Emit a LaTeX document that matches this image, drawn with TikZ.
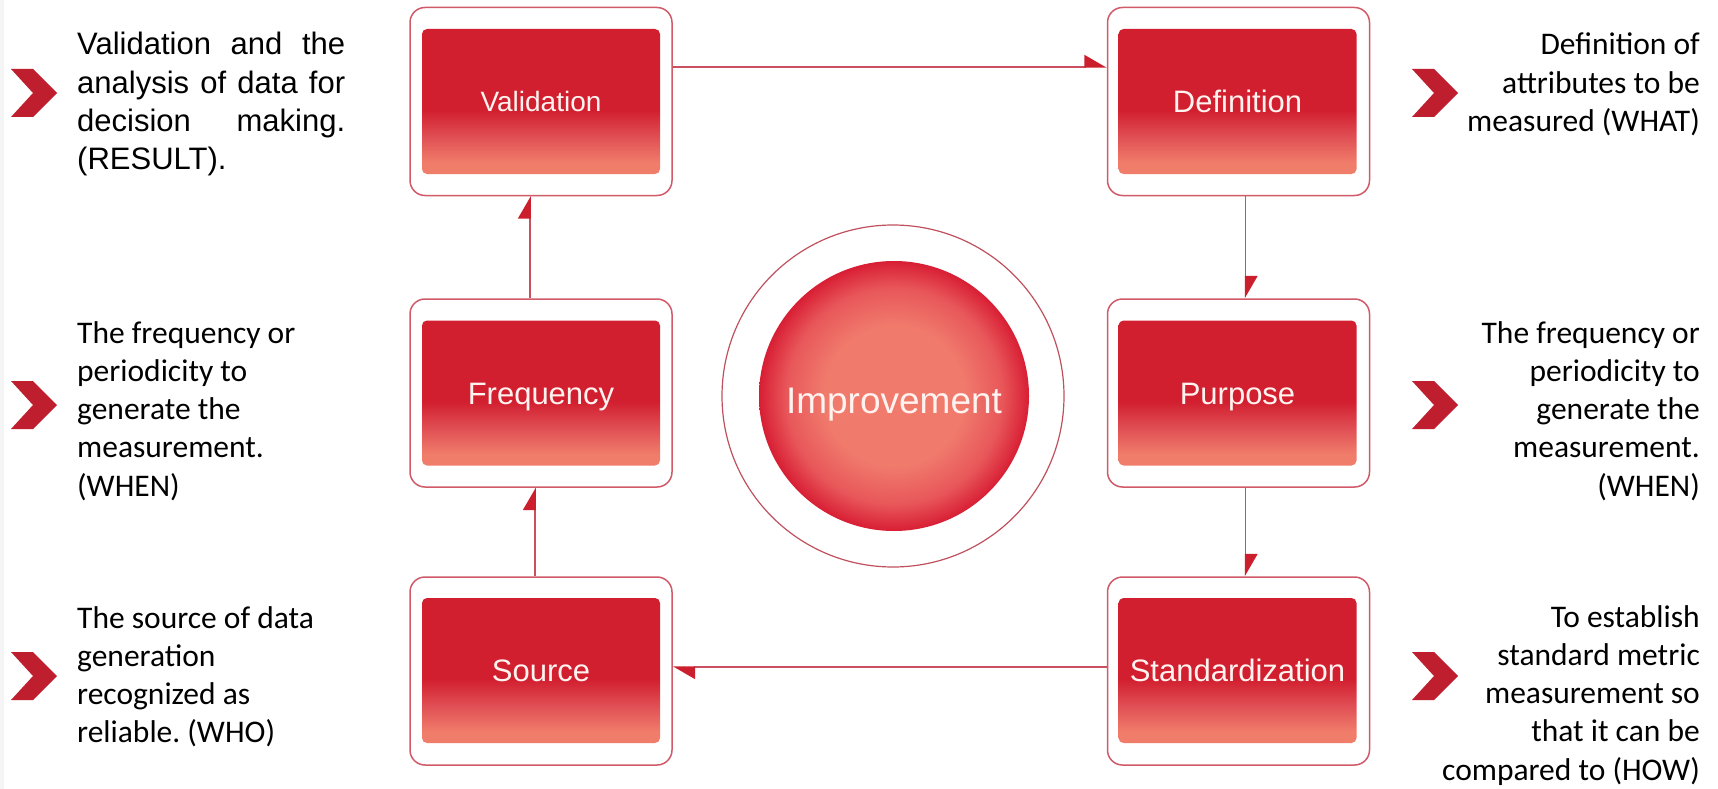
\documentclass[tikz,border=0pt]{standalone}
\usepackage{fontspec}
\setmainfont{Carlito}
\newfontfamily\arialfont{Liberation Sans}
\usetikzlibrary{arrows.meta}
\definecolor{boxtop}{HTML}{D21F30}
\definecolor{boxmid}{HTML}{E04E54}
\definecolor{boxbot}{HTML}{F07C6A}
\definecolor{ballin}{HTML}{F07A6C}
\definecolor{ballmid}{HTML}{E8575A}
\definecolor{ballout}{HTML}{D81E34}
\definecolor{linecol}{HTML}{C9505F}
\definecolor{bordercol}{HTML}{D05A68}
\definecolor{ringcol}{HTML}{C0505E}
\definecolor{tipcol}{HTML}{CC1F2E}
\definecolor{chevred}{HTML}{BE1E2D}
\definecolor{boxtext}{HTML}{FFF2EF}
\pgfdeclareverticalshading{boxgrad}{100bp}{color(0bp)=(boxbot); color(29bp)=(boxbot); color(38bp)=(boxmid); color(47bp)=(boxtop); color(100bp)=(boxtop)}
\pgfdeclareradialshading{ballgrad}{\pgfpoint{0bp}{0bp}}{color(0bp)=(ballin); color(13bp)=(ballin); color(20bp)=(ballmid); color(25bp)=(ballout); color(50bp)=(ballout)}
\newcommand\linesL[1]{\vtop{\halign{##\hfil\cr#1\crcr}}}
\newcommand\linesR[1]{\vtop{\halign{\hfil##\cr#1\crcr}}}
\frenchspacing
\begin{document}
\begin{tikzpicture}[x=1pt,y=-1pt,
  outerbox/.style={draw=bordercol, line width=1.5pt, rounded corners=15pt, minimum width=262pt, minimum height=188pt, inner sep=0pt},
  innerbox/.style={rounded corners=5pt, shading=boxgrad, minimum width=238pt, minimum height=145pt, inner sep=0pt, text=boxtext, font=\arialfont\fontsize{31}{37}\selectfont, text height=22.2pt, text depth=0pt},
  conn/.style={draw=linecol, line width=1.5pt, -{Stealth[inset=0pt,length=21pt,width=24pt,left,color=tipcol]}},
  desc/.style={inner sep=0pt, font=\fontsize{31.5}{38.3}\selectfont, text=black},
  chev/.pic={\fill[chevred] (0,0) -- (22,0) -- (46,24) -- (22,48) -- (0,48) -- (22,24) -- cycle;}
]
\useasboundingbox (0,0) rectangle (1718,789);
\fill[white] (0,0) rectangle (1718,789);
\fill[gray!8] (0,0) rectangle (4,789);

% boxes
\node[outerbox] (val) at (541,101.5) {};
\node[innerbox, font=\arialfont\fontsize{28}{34}\selectfont, text height=20pt] (valin) at (541,101.5) {Validation};
\node[outerbox] (def) at (1238.5,101.5) {};
\node[innerbox] (defin) at (1237.5,101.5) {Definition};
\node[outerbox] (frq) at (541,393) {};
\node[innerbox] (frqin) at (541,393) {Frequency};
\node[outerbox] (pur) at (1238.5,393) {};
\node[innerbox] (purin) at (1237.5,393) {Purpose};
\node[outerbox] (src) at (541,671) {};
\node[innerbox] (srcin) at (541,670.5) {Source};
\node[outerbox] (std) at (1238.5,671) {};
\node[innerbox] (stdin) at (1237.5,670.5) {Standardization};

% centre
\node[circle, draw=ringcol, line width=1.2pt, minimum size=342pt, inner sep=0pt] (ring) at (893,396) {};
\node[circle, shading=ballgrad, minimum size=270pt, inner sep=0pt, text=boxtext, font=\arialfont\fontsize{37}{41}\selectfont, text height=34pt, text depth=0pt] (imp) at (894,396) {Improvement};

% connectors
\draw[conn] ([yshift=34.5pt]val.east) -- ([yshift=34.5pt]def.west);
\draw[conn] ([xshift=7pt]def.south) -- ([xshift=7pt]pur.north);
\draw[conn] ([xshift=7pt]pur.south) -- ([xshift=7pt]std.north);
\draw[conn] ([yshift=4pt]std.west) -- ([yshift=4pt]src.east);
\draw[conn] ([xshift=-6pt]src.north) -- ([xshift=-6pt]frq.south);
\draw[conn] ([xshift=-11pt]frq.north) -- ([xshift=-11pt]val.south);

% chevrons
\pic at (11,69) {chev};
\pic at (11,381) {chev};
\pic at (11,652) {chev};
\pic at (1412,69) {chev};
\pic at (1412,381) {chev};
\pic at (1412,652) {chev};

% descriptions
\node[desc, anchor=base west, font=\arialfont\fontsize{31}{38.3}\selectfont] (t1) at (77,55) {\linesL{\hbox to 268pt{Validation\hfill and\hfill the}\cr \hbox to 268pt{analysis\hfill of\hfill data\hfill for}\cr \hbox to 268pt{decision\hfill making.}\cr (RESULT).}};
\node[desc, anchor=base west] (t2) at (77,343) {\linesL{The frequency or\cr periodicity to\cr generate the\cr measurement.\cr (WHEN)}};
\node[desc, anchor=base west] (t3) at (77,628) {\linesL{The source of data\cr generation\cr recognized as\cr reliable. (WHO)}};
\node[desc, anchor=base east] (t4) at (1700,55) {\linesR{Definition of\cr attributes to be\cr measured (WHAT)}};
\node[desc, anchor=base east] (t5) at (1700,343) {\linesR{The frequency or\cr periodicity to\cr generate the\cr measurement.\cr (WHEN)}};
\node[desc, anchor=base east] (t6) at (1700,627) {\linesR{To establish\cr standard metric\cr measurement so\cr that it can be\cr compared to (HOW)}};
\end{tikzpicture}
\end{document}
